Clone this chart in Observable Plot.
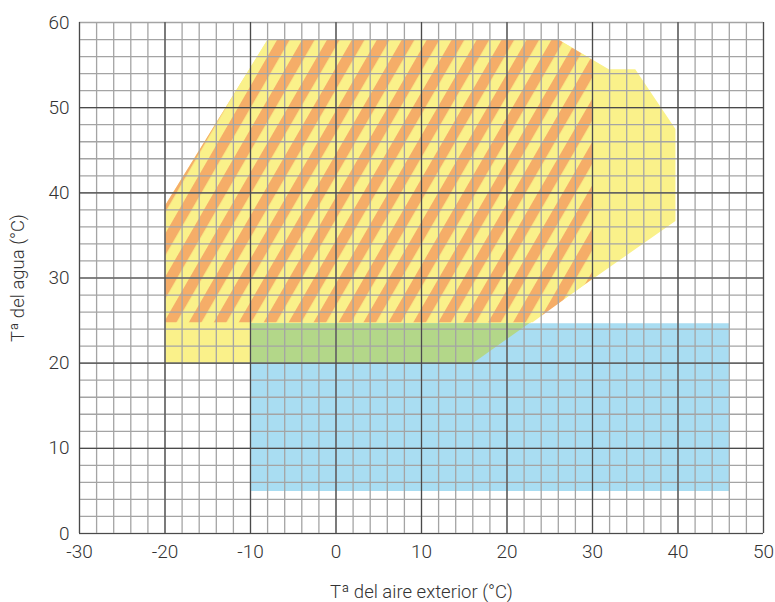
<!DOCTYPE html>
<html>
<head>
<meta charset="utf-8">
<script src="https://cdn.jsdelivr.net/npm/d3@7"></script>
<script src="https://cdn.jsdelivr.net/npm/@observablehq/plot@0.6"></script>
<style>
  html, body { margin: 0; padding: 0; background: #fff; }
</style>
</head>
<body>
<div id="chart"></div>
<script>
// Heating envelope (yellow)
const heatX = [-20, -20, -8, 26, 31.9, 35, 39.7, 39.7, 16];
const heatY = [20, 38.5, 58, 58, 54.5, 54.5, 47.5, 36.7, 20];
// Hatched zone (orange stripes)
const hatchX = [-20, -20, -8, 26, 30, 30, 23];
const hatchY = [24.8, 38.5, 58, 58, 55.6, 29.9, 24.8];
// Cooling envelope (blue)
const coolX = [-10, 46, 46, -10];
const coolY = [5, 5, 24.7, 24.7];
// Overlap heating / cooling (green)
const overlapX = [-10, 16, 22.6, -10];
const overlapY = [20, 20, 24.7, 24.7];

const xTicks = [-30, -20, -10, 0, 10, 20, 30, 40, 50];
const yTicks = [0, 10, 20, 30, 40, 50, 60];
const xLabel = "Tª del aire exterior (°C)";
const yLabel = "Tª del agua (°C)";

const toPts = (xs, ys) => xs.map((x, i) => ({x, y: ys[i]}));

const minorX = d3.range(-30, 51, 2);
const minorY = d3.range(0, 61, 2);
const majorX = [-30, -20, -10, 0, 10, 20, 30, 40, 50];
const majorY = [0, 10, 20, 30, 40, 50];

const font = "Roboto, 'DejaVu Sans', sans-serif";

const chart = Plot.plot({
  width: 775,
  height: 602,
  marginLeft: 79,
  marginRight: 12,
  marginTop: 22,
  marginBottom: 69,
  style: {fontFamily: font, color: "#333", background: "#fff"},
  x: {domain: [-30, 50], axis: null},
  y: {domain: [0, 60], axis: null},
  marks: [
    Plot.line(toPts(heatX, heatY), {x: "x", y: "y", fill: "#faf18a", stroke: "none", curve: "linear-closed"}),
    Plot.line(toPts(coolX, coolY), {x: "x", y: "y", fill: "#a9ddf2", stroke: "none", curve: "linear-closed"}),
    Plot.line(toPts(overlapX, overlapY), {x: "x", y: "y", fill: "#b3d789", stroke: "none", curve: "linear-closed"}),
    Plot.line(toPts(hatchX, hatchY), {x: "x", y: "y", fill: "url(#hatch)", stroke: "none", curve: "linear-closed"}),
    Plot.ruleX(minorX, {stroke: "#a4a4a4", strokeWidth: 1.3}),
    Plot.ruleY(minorY, {stroke: "#a4a4a4", strokeWidth: 1.3}),
    Plot.ruleX(majorX, {stroke: "#4a4a4a", strokeWidth: 1.2}),
    Plot.ruleY(majorY, {stroke: "#4a4a4a", strokeWidth: 1.2}),
    Plot.axisX({
      ticks: xTicks, tickSize: 0, tickPadding: 11, tickFormat: d => String(d),
      fontSize: 19, fontWeight: 300, fontFamily: font, fill: "#333",
      label: xLabel, labelAnchor: "center", labelArrow: "none", labelOffset: 64
    }),
    Plot.axisY({
      ticks: yTicks, tickSize: 0, tickPadding: 10, tickFormat: d => String(d),
      fontSize: 19, fontWeight: 300, fontFamily: font, fill: "#333",
      label: yLabel, labelAnchor: "center", labelArrow: "none", labelOffset: 69
    })
  ]
});

// hatch pattern definition
const ns = "http://www.w3.org/2000/svg";
const defs = document.createElementNS(ns, "defs");
const pat = document.createElementNS(ns, "pattern");
pat.setAttribute("id", "hatch");
pat.setAttribute("patternUnits", "userSpaceOnUse");
pat.setAttribute("width", "21.6");
pat.setAttribute("height", "20");
pat.setAttribute("patternTransform", "rotate(30)");
const bg = document.createElementNS(ns, "rect");
bg.setAttribute("width", "21.6"); bg.setAttribute("height", "20"); bg.setAttribute("fill", "#faf18a");
const st = document.createElementNS(ns, "rect");
st.setAttribute("width", "11"); st.setAttribute("height", "20"); st.setAttribute("fill", "#f5ad68");
pat.appendChild(bg); pat.appendChild(st);
defs.appendChild(pat);
chart.insertBefore(defs, chart.firstChild);

// axis titles
chart.querySelectorAll("[aria-label$='axis label'] text").forEach(t => {
  t.setAttribute("font-size", "18.5");
  t.style.fontSize = "18.5px";
});

document.getElementById("chart").appendChild(chart);
</script>
</body>
</html>
